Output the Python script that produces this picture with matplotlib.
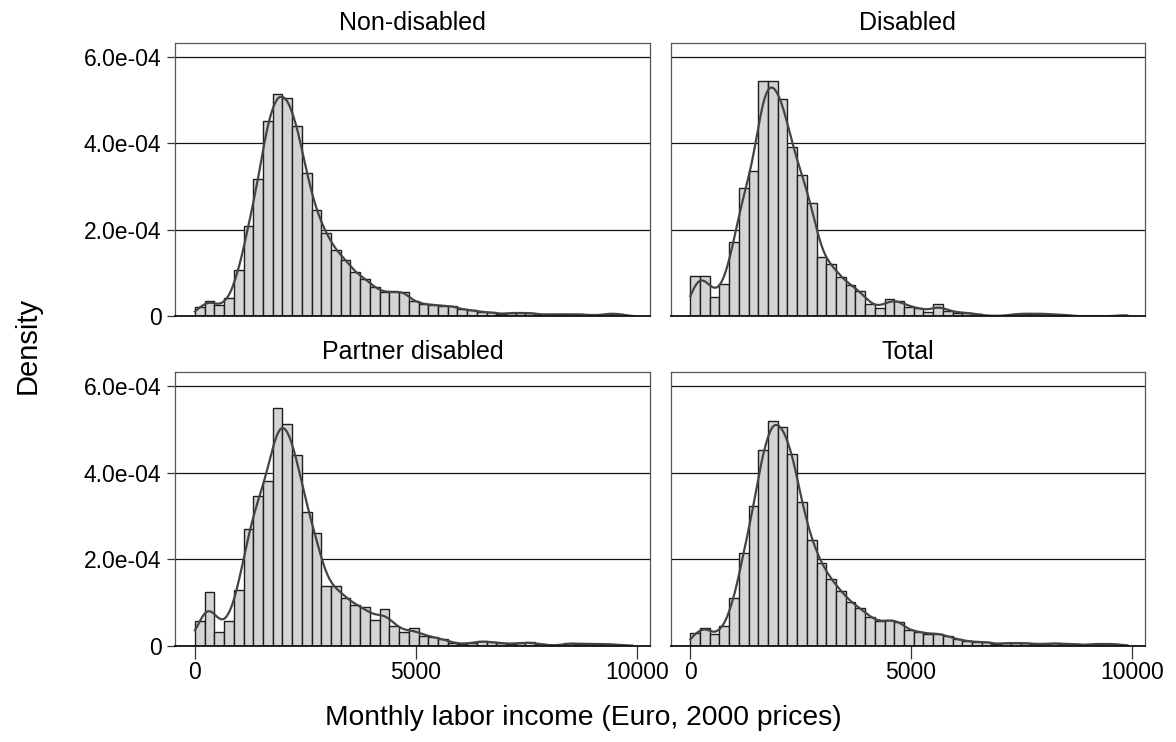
import math
import numpy as np
import matplotlib
matplotlib.use("Agg")
import matplotlib.pyplot as plt

plt.rcParams['font.family'] = ['Liberation Sans', 'DejaVu Sans']

# ---- data (densities in units of 1e-4, 45 bins of 220 euro starting at 0) ----
bin_width = 220
panel_titles = ["Non-disabled", "Disabled", "Partner disabled", "Total"]

non_disabled = [0.22, 0.35, 0.25, 0.42, 1.07, 2.08, 3.17, 4.51, 5.15, 5.06,
                4.41, 3.31, 2.45, 1.92, 1.54, 1.30, 1.02, 0.87, 0.67, 0.56,
                0.57, 0.56, 0.355, 0.286, 0.263, 0.247, 0.232, 0.162, 0.139, 0.100,
                0.093, 0.054, 0.077, 0.077, 0.077, 0.04, 0.045, 0.045, 0.045, 0.045,
                0.03, 0.025, 0.06, 0.06, 0.015]
disabled = [0.94, 0.94, 0.45, 0.74, 1.73, 2.97, 3.36, 5.45, 5.45, 5.03,
            3.92, 3.26, 2.61, 1.37, 1.22, 0.90, 0.72, 0.59, 0.28, 0.185,
            0.39, 0.36, 0.22, 0.20, 0.10, 0.28, 0.13, 0.085, 0.085, 0.05,
            0.01, 0.01, 0.01, 0.06, 0.06, 0.06, 0.06, 0.04, 0.04, 0.0,
            0.0, 0.0, 0.0, 0.0, 0.04]
partner_disabled = [0.58, 1.23, 0.31, 0.56, 1.29, 2.70, 3.45, 3.81, 5.48, 5.13,
                    4.40, 3.09, 2.60, 1.37, 1.37, 1.11, 0.93, 0.89, 0.59, 0.85,
                    0.46, 0.31, 0.40, 0.23, 0.20, 0.16, 0.06, 0.03, 0.06, 0.12,
                    0.08, 0.06, 0.03, 0.07, 0.08, 0.04, 0.0, 0.0, 0.07, 0.04,
                    0.04, 0.04, 0.04, 0.02, 0.0]
total = [0.29, 0.42, 0.27, 0.46, 1.10, 2.15, 3.22, 4.51, 5.19, 5.05,
         4.43, 3.31, 2.45, 1.91, 1.54, 1.27, 1.02, 0.86, 0.67, 0.56,
         0.59, 0.555, 0.37, 0.32, 0.28, 0.28, 0.22, 0.147, 0.108, 0.085,
         0.085, 0.04, 0.06, 0.06, 0.06, 0.04, 0.04, 0.055, 0.04, 0.04,
         0.015, 0.04, 0.04, 0.04, 0.015]
series = [non_disabled, disabled, partner_disabled, total]
kde_bandwidth = [110, 160, 180, 110]

x_ticks = [0, 5000, 10000]
x_tick_labels = ["0", "5000", "10000"]
y_ticks = [0, 2e-4, 4e-4, 6e-4]
y_tick_labels = ["0", "2.0e-04", "4.0e-04", "6.0e-04"]

# ---- layout ----
W, H = 1176, 742
fig = plt.figure(figsize=(W / 100, H / 100), dpi=100)

erf = np.frompyfunc(math.erf, 1, 1)


def ncdf(z):
    return 0.5 * (1.0 + erf(z / math.sqrt(2.0)).astype(float))


def rect(l, r, t, b):
    return [l / W, 1 - b / H, (r - l) / W, (b - t) / H]


rects = [rect(175.3, 650, 42.7, 316.3), rect(670.7, 1145, 42.7, 316.3),
         rect(175.3, 650, 371.7, 645.7), rect(670.7, 1145, 371.7, 645.7)]

for i, (title, vals) in enumerate(zip(panel_titles, series)):
    ax = fig.add_axes(rects[i])
    h = np.array(vals) * 1e-4
    edges = np.arange(len(h) + 1) * bin_width
    ax.bar(edges[:-1], h, width=bin_width, align='edge', color='#d4d4d4',
           edgecolor='#1e1e1e', linewidth=1.0, zorder=3)
    # kernel-smoothed density of the binned data (mass spread uniformly in each bin)
    grid = np.linspace(0, edges[-1], 600)
    bw = kde_bandwidth[i]
    a = (grid[:, None] - edges[None, :-1]) / bw
    b = (grid[:, None] - edges[None, 1:]) / bw
    dens = (h[None, :] * (ncdf(a) - ncdf(b))).sum(axis=1)
    ax.plot(grid, dens, color='#444444', lw=1.6, zorder=4)

    ax.set_xlim(-445, 10300)
    ax.set_ylim(0, 6.33e-4)
    ax.set_yticks(y_ticks)
    ax.yaxis.grid(True, color='#111111', lw=0.9, zorder=0)
    ax.set_axisbelow(True)
    for s in ax.spines.values():
        s.set_color('#555555')
        s.set_linewidth(0.9)
    ax.spines['bottom'].set_color('#111111')
    ax.spines['bottom'].set_linewidth(1.3)
    ax.spines['bottom'].set_zorder(5)

    if i % 2 == 0:
        ax.set_yticklabels(y_tick_labels, fontsize=16.5)
        ax.tick_params(axis='y', length=6, width=0.9, color='#333333', pad=4)
    else:
        ax.tick_params(axis='y', length=0, labelleft=False)
    if i >= 2:
        ax.set_xticks(x_ticks)
        ax.set_xticklabels(x_tick_labels, fontsize=16.5)
        ax.tick_params(axis='x', length=9, width=0.9, color='#333333', pad=2)
    else:
        ax.set_xticks(x_ticks)
        ax.tick_params(axis='x', length=0, labelbottom=False)

    pos = ax.get_position()
    fig.text(pos.x0 + pos.width / 2, pos.y1 + 20 / H, title, ha='center', va='center',
             fontsize=18)

fig.text(583 / W, 1 - 718 / H, "Monthly labor income (Euro, 2000 prices)",
         ha='center', va='center', fontsize=20.3)
fig.text(28 / W, 1 - 345 / H, "Density", ha='center', va='center', rotation=90,
         fontsize=21)

fig.savefig("out.png", dpi=100, facecolor='white')
